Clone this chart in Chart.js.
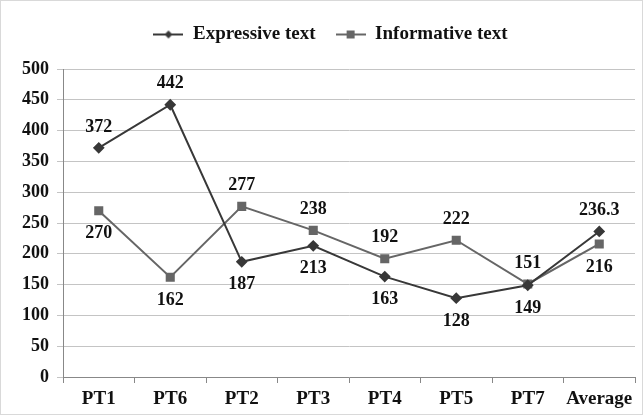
<!DOCTYPE html>
<html>
<head>
<meta charset="utf-8">
<script src="https://cdn.jsdelivr.net/npm/chart.js@4.4.0/dist/chart.umd.min.js"></script>
<style>
  html, body { margin: 0; padding: 0; background: #fff; }
  #wrap { width: 643px; height: 415px; position: relative; box-sizing: border-box; border: 1px solid #d9d9d9; }
</style>
</head>
<body>
<div id="wrap"><canvas id="chart"></canvas></div>
<script>
// categories and series
const categories = ['PT1', 'PT6', 'PT2', 'PT3', 'PT4', 'PT5', 'PT7', 'Average'];
const expressive = [372, 442, 187, 213, 163, 128, 149, 236.3];
const informative = [270, 162, 277, 238, 192, 222, 151, 216];
const yTicks = [0, 50, 100, 150, 200, 250, 300, 350, 400, 450, 500];

const FONT = '"Liberation Serif", "Times New Roman", serif';
const EXP_COLOR = '#383838';
const INF_COLOR = '#666666';

// legend symbol: short line with the marker in the middle
function legendIcon(color, style) {
    const c = document.createElement('canvas');
    c.width = 30; c.height = 12;
    const g = c.getContext('2d');
    g.strokeStyle = color;
    g.lineWidth = 2;
    g.beginPath();
    g.moveTo(0, 6); g.lineTo(30, 6);
    g.stroke();
    g.fillStyle = color;
    if (style === 'rectRot') {
        g.beginPath();
        g.moveTo(15, 2); g.lineTo(19, 6); g.lineTo(15, 10); g.lineTo(11, 6);
        g.closePath(); g.fill();
    } else {
        g.fillRect(11, 2, 8, 8);
    }
    return c;
}

// value labels: above the point when it is the higher series, below otherwise
const valueLabels = {
    id: 'valueLabels',
    afterDatasetsDraw(chart) {
        const ctx = chart.ctx;
        ctx.save();
        ctx.font = 'bold 18px ' + FONT;
        ctx.fillStyle = '#111';
        ctx.textAlign = 'center';
        ctx.textBaseline = 'middle';
        chart.data.datasets.forEach((ds, i) => {
            const other = chart.data.datasets[1 - i].data;
            chart.getDatasetMeta(i).data.forEach((pt, j) => {
                const v = ds.data[j];
                const above = v > other[j];
                ctx.fillText(String(v), pt.x, pt.y + (above ? -21 : 23));
            });
        });
        ctx.restore();
    }
};

new Chart(document.getElementById('chart'), {
    type: 'line',
    data: {
        labels: categories,
        datasets: [
            {
                label: 'Expressive text',
                data: expressive,
                borderColor: EXP_COLOR,
                backgroundColor: EXP_COLOR,
                borderWidth: 2,
                pointStyle: 'rectRot',
                pointRadius: 4.5,
                tension: 0
            },
            {
                label: 'Informative text',
                data: informative,
                borderColor: INF_COLOR,
                backgroundColor: INF_COLOR,
                borderWidth: 2,
                pointStyle: 'rect',
                pointRadius: 5,
                tension: 0
            }
        ]
    },
    options: {
        responsive: true,
        maintainAspectRatio: false,
        animation: false,
        layout: { padding: { top: 4, right: 2, left: 20, bottom: 0 } },
        plugins: {
            tooltip: { enabled: false },
            // empty title used as a spacer between legend and plot
            title: {
                display: true,
                text: '',
                weight: 500,
                padding: 0,
                font: { size: 15, lineHeight: 1 }
            },
            legend: {
                position: 'top',
                labels: {
                    usePointStyle: true,
                    pointStyleWidth: 30,
                    padding: 20,
                    color: '#111',
                    font: { family: FONT, size: 19, weight: 'bold' },
                    generateLabels(chart) {
                        return chart.data.datasets.map((ds, i) => ({
                            text: ds.label,
                            pointStyle: legendIcon(ds.borderColor, ds.pointStyle),
                            fillStyle: ds.borderColor,
                            strokeStyle: ds.borderColor,
                            lineWidth: 0,
                            fontColor: '#111',
                            hidden: false,
                            datasetIndex: i
                        }));
                    }
                }
            }
        },
        scales: {
            x: {
                offset: true,
                grid: {
                    display: true,
                    offset: true,
                    drawOnChartArea: false,
                    tickLength: 6,
                    color: '#888'
                },
                border: { color: '#888', width: 1 },
                ticks: {
                    padding: 5,
                    maxRotation: 0,
                    minRotation: 0,
                    autoSkip: false,
                    color: '#111',
                    font: { family: FONT, size: 19, weight: 'bold' }
                },
                afterFit(scale) { scale.height = 37; }
            },
            y: {
                min: 0,
                max: 500,
                afterBuildTicks(scale) { scale.ticks = yTicks.map(v => ({ value: v })); },
                grid: {
                    color: '#c4c4c4',
                    tickLength: 6,
                    lineWidth: 1
                },
                border: { color: '#888', width: 1 },
                ticks: {
                    padding: 8,
                    color: '#111',
                    font: { family: FONT, size: 18, weight: 'bold' }
                },
                afterFit(scale) { scale.width = 42; }
            }
        }
    },
    plugins: [valueLabels]
});
</script>
</body>
</html>
